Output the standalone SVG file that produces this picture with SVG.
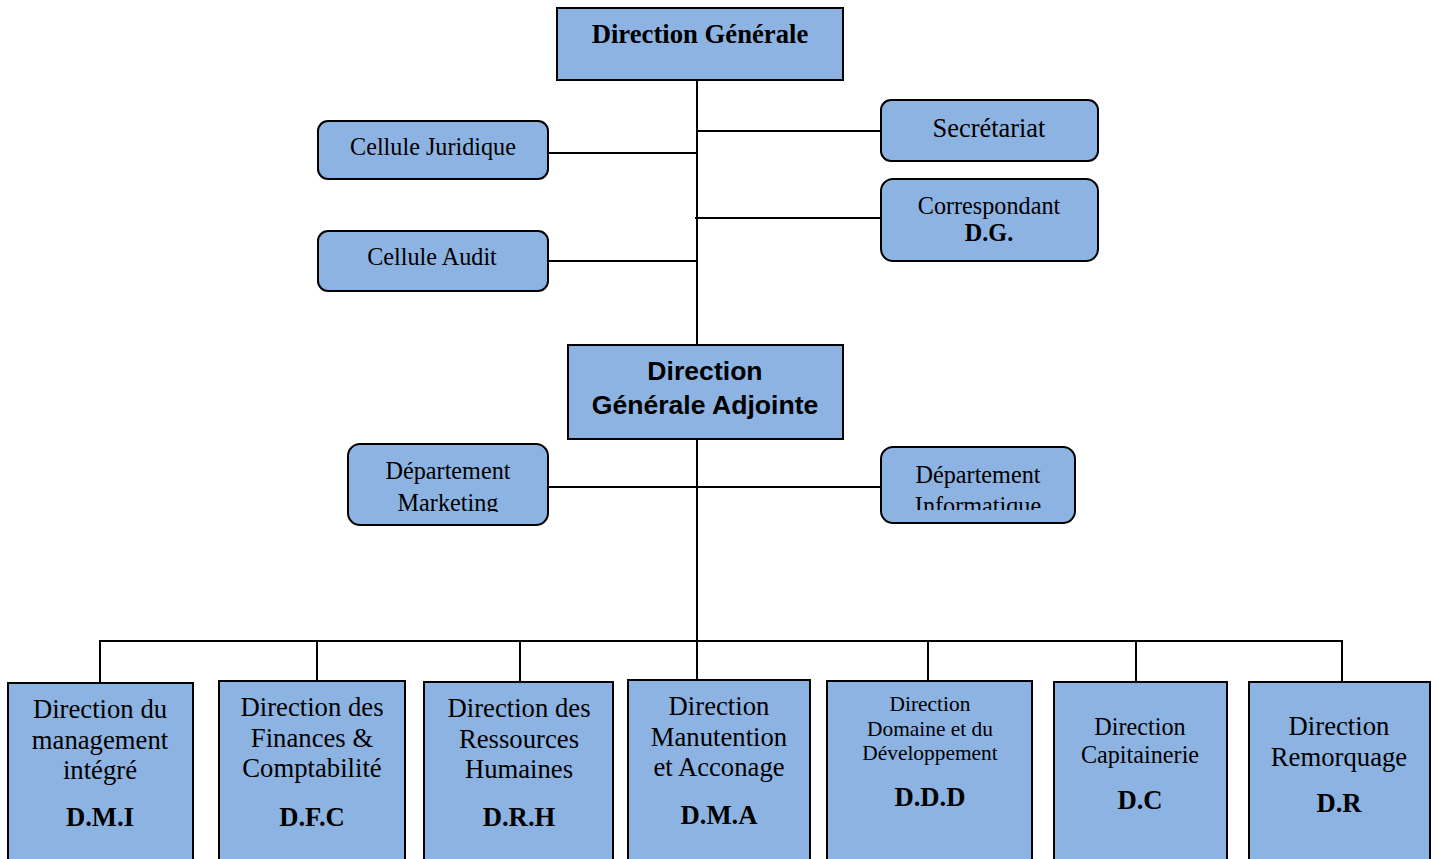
<svg xmlns="http://www.w3.org/2000/svg" width="1438" height="859" viewBox="0 0 1438 859">
<style>
.box{fill:#8db3e2;stroke:#000;stroke-width:2}
.t{font-family:"Liberation Serif","Times New Roman",serif;font-size:24.2px;fill:#000;text-anchor:middle}
.b{font-weight:bold}
.s{font-family:"Liberation Sans",Arial,sans-serif;font-weight:bold;font-size:26.6px;text-anchor:middle}
.big{font-size:26.7px}
.sm{font-size:21.4px}
.c{fill:none;stroke:#000;stroke-width:2}
</style>
<defs>
<clipPath id="clipM"><rect x="348" y="444" width="200" height="68"/></clipPath>
<clipPath id="clipI"><rect x="881" y="447" width="194" height="63"/></clipPath>
</defs>
<rect width="1438" height="859" fill="#fff"/>
<g id="connectors">
<path class="c" d="M697 80V344M697 439V641"/>
<path class="c" d="M697 131H881M695 218H881M548 153H697M548 261H697M548 487H881"/>
<path class="c" d="M100 683V641H1342V683M317 641V681M520 641V682M697 641V680M928 641V681M1136 641V682"/>
</g>
<g id="dg"><rect class="box" x="557" y="8" width="286" height="72"/><text class="t b big" x="700" y="43">Direction Générale</text></g>
<g id="secretariat"><rect class="box" x="881" y="100" width="217" height="61" rx="10"/><text class="t" x="989" y="137" style="font-size:26.4px">Secrétariat</text></g>
<g id="correspondant"><rect class="box" x="881" y="179" width="217" height="82" rx="12"/><text class="t" x="989" y="214">Correspondant</text><text class="t b" x="989" y="241">D.G.</text></g>
<g id="juridique"><rect class="box" x="318" y="121" width="230" height="58" rx="10"/><text class="t" x="433" y="155">Cellule Juridique</text></g>
<g id="audit"><rect class="box" x="318" y="231" width="230" height="60" rx="10"/><text class="t" x="432" y="265">Cellule Audit</text></g>
<g id="dga"><rect class="box" x="568" y="345" width="275" height="94"/><text class="s" x="705" y="380">Direction</text><text class="s" x="705" y="414">Générale Adjointe</text></g>
<g id="marketing"><rect class="box" x="348" y="444" width="200" height="81" rx="12"/><g clip-path="url(#clipM)"><text class="t" x="448" y="479">Département</text><text class="t" x="448" y="511">Marketing</text></g></g>
<g id="informatique"><rect class="box" x="881" y="447" width="194" height="76" rx="12"/><g clip-path="url(#clipI)"><text class="t" x="978" y="483">Département</text><text class="t" x="978" y="514">Informatique</text></g></g>
<g id="dmi"><rect class="box" x="8" y="683" width="185" height="180"/><text class="t big" x="100" y="718">Direction du</text><text class="t big" x="100" y="749">management</text><text class="t big" x="100" y="779">intégré</text><text class="t b big" x="100" y="826">D.M.I</text></g>
<g id="dfc"><rect class="box" x="219" y="681" width="186" height="182"/><text class="t big" x="312" y="716">Direction des</text><text class="t big" x="312" y="747">Finances &amp;</text><text class="t big" x="312" y="777">Comptabilité</text><text class="t b big" x="312" y="826">D.F.C</text></g>
<g id="drh"><rect class="box" x="424" y="682" width="189" height="181"/><text class="t big" x="519" y="717">Direction des</text><text class="t big" x="519" y="748">Ressources</text><text class="t big" x="519" y="778">Humaines</text><text class="t b big" x="519" y="826">D.R.H</text></g>
<g id="dma"><rect class="box" x="628" y="680" width="182" height="183"/><text class="t big" x="719" y="715">Direction</text><text class="t big" x="719" y="746">Manutention</text><text class="t big" x="719" y="776">et Acconage</text><text class="t b big" x="719" y="824">D.M.A</text></g>
<g id="ddd"><rect class="box" x="827" y="681" width="205" height="182"/><text class="t sm" x="930" y="711">Direction</text><text class="t sm" x="930" y="736">Domaine et du</text><text class="t sm" x="930" y="760">Développement</text><text class="t b big" x="930" y="806">D.D.D</text></g>
<g id="dc"><rect class="box" x="1054" y="682" width="173" height="181"/><text class="t" x="1140" y="735">Direction</text><text class="t" x="1140" y="763">Capitainerie</text><text class="t b big" x="1140" y="809">D.C</text></g>
<g id="dr"><rect class="box" x="1249" y="682" width="181" height="181"/><text class="t big" x="1339" y="735">Direction</text><text class="t big" x="1339" y="766">Remorquage</text><text class="t b big" x="1339" y="812">D.R</text></g>
</svg>
